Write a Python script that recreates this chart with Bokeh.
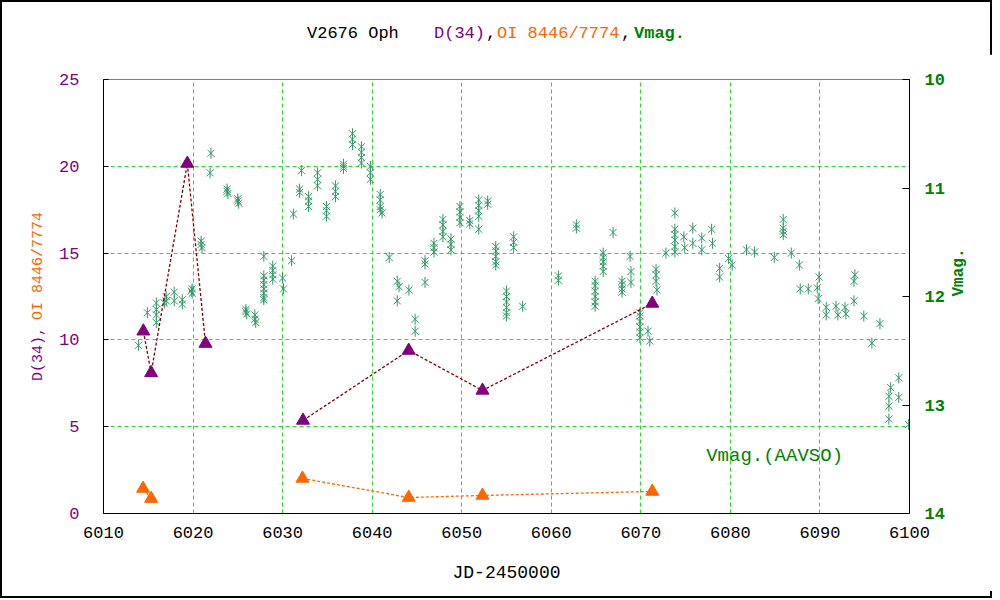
import math
from bokeh.plotting import figure
from bokeh.models import Range1d, LinearAxis, FixedTicker, Label, Div
from bokeh.layouts import column, row
from bokeh.embed import file_html
from bokeh.resources import INLINE

# ---------------- data ----------------
d34_jd = [6014.45, 6015.32, 6019.36, 6021.39, 6032.28, 6044.08, 6052.32, 6071.28]
d34_val = [10.5, 8.1, 20.16, 9.79, 5.36, 9.39, 7.09, 12.1]
d34_run = [0, 0, 0, 0, 1, 1, 1, 1]

oi_jd = [6014.42, 6015.32, 6032.22, 6044.08, 6052.32, 6071.28]
oi_val = [1.44, 0.86, 2.02, 0.92, 1.04, 1.27]
oi_run = [0, 0, 1, 1, 1, 1]

vmag_jd = [
    6013.9, 6014.9, 6015.9, 6015.9, 6015.9, 6015.9, 6016.8, 6017.0, 6017.0, 6017.9,
    6017.9, 6018.8, 6018.8, 6019.8, 6019.9, 6019.9, 6020.9, 6020.9, 6021.0, 6021.9,
    6022.0, 6023.8, 6023.8, 6023.9, 6025.0, 6025.0, 6025.1, 6025.9, 6025.9, 6026.0,
    6026.9, 6026.9, 6027.0, 6027.9, 6027.9, 6027.9, 6027.9, 6027.9, 6027.9, 6027.9,
    6027.9, 6028.9, 6028.9, 6028.9, 6028.9, 6030.0, 6030.1, 6031.0, 6031.2, 6032.1,
    6031.9, 6031.9, 6032.9, 6032.9, 6032.9, 6033.9, 6033.9, 6033.9, 6034.9, 6034.9,
    6034.9, 6035.9, 6035.9, 6035.9, 6036.8, 6036.8, 6036.8, 6037.8, 6037.8, 6037.8,
    6038.8, 6038.8, 6038.8, 6038.8, 6039.8, 6039.8, 6039.8, 6040.9, 6040.9, 6040.9,
    6040.9, 6041.1, 6041.9, 6042.8, 6042.8, 6043.0, 6044.1, 6044.8, 6044.8, 6045.9,
    6045.9, 6045.9, 6046.9, 6046.9, 6046.9, 6047.9, 6047.9, 6047.9, 6047.9, 6048.8,
    6048.8, 6048.8, 6049.8, 6049.8, 6049.8, 6049.8, 6050.9, 6050.9, 6051.9, 6051.9,
    6051.9, 6051.9, 6051.9, 6052.9, 6052.9, 6053.8, 6053.8, 6053.8, 6053.8, 6053.8,
    6055.0, 6055.0, 6055.0, 6055.0, 6055.0, 6055.0, 6055.8, 6055.8, 6055.8, 6056.8,
    6060.8, 6060.8, 6062.8, 6062.8, 6064.9, 6064.9, 6064.9, 6064.9, 6064.9, 6064.9,
    6065.8, 6065.8, 6065.8, 6065.8, 6065.8, 6066.9, 6067.9, 6067.9, 6067.9, 6067.9,
    6068.8, 6068.9, 6068.9, 6069.9, 6069.9, 6069.9, 6069.9, 6069.9, 6069.9, 6070.8,
    6071.0, 6071.7, 6071.7, 6071.7, 6071.8, 6072.8, 6073.8, 6073.8, 6073.8, 6073.8,
    6073.8, 6073.8, 6074.8, 6074.9, 6075.8, 6075.8, 6076.8, 6076.8, 6077.9, 6078.0,
    6078.8, 6078.8, 6079.8, 6080.2, 6081.8, 6082.7, 6084.9, 6085.9, 6085.9, 6085.9,
    6085.9, 6086.8, 6087.7, 6087.8, 6088.7, 6089.7, 6089.9, 6089.8, 6090.7, 6090.7,
    6091.8, 6092.0, 6092.8, 6092.9, 6093.8, 6093.9, 6093.8, 6094.9, 6095.8, 6096.7,
    6098.8, 6097.9, 6097.7, 6098.8, 6097.7, 6097.7, 6099.9,
]
vmag_val = [
    12.45, 12.15, 12.06, 12.12, 12.17, 12.24, 12.06, 12.00, 12.04, 11.96,
    12.04, 12.03, 12.07, 11.95, 11.93, 11.97, 11.49, 11.52, 11.55, 10.86,
    10.68, 11.01, 11.03, 11.05, 11.10, 11.12, 11.14, 12.12, 12.14, 12.16,
    12.17, 12.21, 12.24, 11.63, 11.81, 11.85, 11.89, 11.93, 11.97, 12.01,
    12.03, 11.72, 11.76, 11.80, 11.84, 11.83, 11.93, 11.67, 11.24, 10.84,
    11.01, 11.04, 11.08, 11.12, 11.17, 10.86, 10.92, 10.98, 11.17, 11.21,
    11.26, 10.98, 11.03, 11.08, 10.78, 10.80, 10.82, 10.50, 10.55, 10.60,
    10.62, 10.67, 10.72, 10.77, 10.80, 10.86, 10.92, 11.06, 11.11, 11.17,
    11.20, 11.23, 11.64, 11.86, 12.04, 11.91, 11.94, 12.21, 12.32, 11.67,
    11.70, 11.87, 11.51, 11.55, 11.59, 11.29, 11.34, 11.40, 11.45, 11.47,
    11.52, 11.57, 11.17, 11.22, 11.27, 11.32, 11.30, 11.33, 11.38, 11.11,
    11.16, 11.21, 11.26, 11.12, 11.15, 11.54, 11.58, 11.63, 11.68, 11.71,
    11.95, 12.00, 12.05, 12.10, 12.15, 12.18, 11.45, 11.50, 11.55, 12.09,
    11.81, 11.85, 11.34, 11.37, 11.86, 11.90, 11.95, 12.00, 12.05, 12.09,
    11.60, 11.64, 11.68, 11.72, 11.77, 11.41, 11.86, 11.89, 11.93, 11.96,
    11.63, 11.77, 11.87, 12.15, 12.18, 12.23, 12.28, 12.33, 12.38, 12.32,
    12.41, 11.75, 11.80, 11.86, 11.94, 11.60, 11.23, 11.38, 11.43, 11.48,
    11.54, 11.59, 11.45, 11.55, 11.37, 11.51, 11.46, 11.57, 11.38, 11.51,
    11.74, 11.82, 11.65, 11.71, 11.57, 11.59, 11.64, 11.29, 11.37, 11.40,
    11.43, 11.60, 11.71, 11.93, 11.93, 11.92, 11.82, 12.02, 12.10, 12.17,
    12.09, 12.17, 12.10, 12.16, 12.04, 11.80, 11.86, 12.18, 12.43, 12.25,
    12.75, 12.84, 12.92, 12.93, 13.01, 13.13, 13.18,
]

x_ticks = [6010, 6020, 6030, 6040, 6050, 6060, 6070, 6080, 6090, 6100]
left_ticks = [0, 5, 10, 15, 20, 25]
right_ticks = [10, 11, 12, 13, 14]

title_parts = [("V2676 Oph", "#000000", 302, "normal"),
               ("D(34)", "#800080", 429, "normal"),
               (",", "#000000", 481, "normal"),
               ("OI 8446/7774", "#ff6600", 492, "normal"),
               (",", "#000000", 616, "normal"),
               ("Vmag.", "#008000", 629, "bold")]
ylabel_parts = [("D(34),", "#800080"), ("OI 8446/7774", "#ff6600")]

PURPLE = "#800080"
ORANGE = "#ff6600"
GREEN_TXT = "#008000"
STAR = "#339966"
DRED = "#800000"
GRID = "#22e022"
MONO = "Liberation Mono"

TOTAL_W = 982
TITLE_H = 44
LEFT_W = 46
PW, PH = TOTAL_W - LEFT_W, 537


def broken(xs, ys, runs):
    ox, oy = [], []
    for i, (x, y, r) in enumerate(zip(xs, ys, runs)):
        if i > 0 and r != runs[i - 1]:
            ox.append(float("nan"))
            oy.append(float("nan"))
        ox.append(x)
        oy.append(y)
    return ox, oy


p = figure(width=PW, height=PH, output_backend="svg", toolbar_location=None,
           x_range=Range1d(6010, 6100), y_range=Range1d(0, 25),
           min_border_left=91 - LEFT_W, min_border_right=83,
           min_border_top=25, min_border_bottom=78, title=None)
p.extra_y_ranges = {"vmag": Range1d(14, 10)}
p.background_fill_color = "white"
p.border_fill_color = "white"
p.outline_line_color = "#808080"
p.outline_line_width = 1

# grids
p.xgrid.ticker = FixedTicker(ticks=x_ticks)
p.ygrid.ticker = FixedTicker(ticks=left_ticks)
for g in (p.xgrid, p.ygrid):
    g.grid_line_color = GRID
    g.grid_line_dash = "4 3"
    g.grid_line_width = 1

# bottom axis
xa = p.xaxis[0]
xa.ticker = FixedTicker(ticks=x_ticks)
xa.major_tick_in = 0
xa.major_tick_out = 0
xa.minor_tick_line_color = None
xa.major_label_text_font = MONO
xa.major_label_text_font_size = "17px"
xa.major_label_text_color = "black"
xa.major_label_standoff = 13
xa.axis_line_color = "black"
xa.axis_label = "JD-2450000"
xa.axis_label_text_font = MONO
xa.axis_label_text_font_size = "18px"
xa.axis_label_text_font_style = "normal"
xa.axis_label_text_color = "black"
xa.axis_label_standoff = 22

# left axis
ya = p.yaxis[0]
ya.ticker = FixedTicker(ticks=left_ticks)
ya.major_tick_in = 5
ya.major_tick_out = 0
ya.minor_tick_line_color = None
ya.major_label_text_font = MONO
ya.major_label_text_font_size = "17px"
ya.major_label_text_color = PURPLE
ya.major_label_standoff = 24
ya.axis_line_color = "black"

# right axis
ra = LinearAxis(y_range_name="vmag", ticker=FixedTicker(ticks=right_ticks))
ra.major_tick_in = 7
ra.major_tick_out = 0
ra.minor_tick_line_color = None
ra.major_label_text_font = MONO
ra.major_label_text_font_size = "17px"
ra.major_label_text_font_style = "bold"
ra.major_label_text_color = GREEN_TXT
ra.major_label_standoff = 15
ra.axis_line_color = "black"
ra.axis_label = "Vmag."
ra.axis_label_text_font = MONO
ra.axis_label_text_font_size = "16px"
ra.axis_label_text_font_style = "bold"
ra.axis_label_text_color = GREEN_TXT
ra.axis_label_standoff = 11
if "axis_label_orientation" in ra.properties():
    ra.axis_label_orientation = math.pi / 2
p.add_layout(ra, "right")

# data
p.scatter(vmag_jd, vmag_val, marker="x", size=10, line_color=STAR,
          line_width=1, y_range_name="vmag")
p.scatter(vmag_jd, vmag_val, marker="dash", size=11, angle=math.pi / 2,
          line_color=STAR, line_width=1, y_range_name="vmag")

lx, ly = broken(d34_jd, d34_val, d34_run)
p.line(lx, ly, line_color=DRED, line_dash="3 2", line_width=1.3)
ox, oy = broken(oi_jd, oi_val, oi_run)
p.line(ox, oy, line_color=ORANGE, line_dash="3 2", line_width=1.3)

p.scatter(d34_jd, d34_val, marker="triangle", size=13, fill_color=PURPLE,
          line_color=PURPLE)
p.scatter(oi_jd, oi_val, marker="triangle", size=13, fill_color=ORANGE,
          line_color=ORANGE)

p.add_layout(Label(x=6077.3, y=3.34, text="Vmag.(AAVSO)", text_color=GREEN_TXT,
                   text_font=MONO, text_font_size="19px", text_align="left",
                   text_baseline="middle"))

# title (multi-coloured) as HTML
spans = "".join(
    f'<span style="position:absolute;left:{x}px;top:20px;color:{c};'
    f'font-weight:{w};white-space:pre;">{t}</span>'
    for t, c, x, w in title_parts)
title_div = Div(
    text=(f'<div style="position:relative;width:{TOTAL_W}px;height:{TITLE_H}px;'
          f"font-family:'Liberation Mono',monospace;font-size:17px;"
          f'line-height:17px;">{spans}</div>'),
    width=TOTAL_W, height=TITLE_H)

# left axis label (multi-coloured, rotated) as HTML
LEFT_INNER_H = PH - 4
yspans = '<span style="display:inline-block;height:7px;"></span>'.join(
    f'<span style="color:{c};white-space:pre;">{t}</span>' for t, c in ylabel_parts)
left_div = Div(
    text=(f'<div style="width:{LEFT_W}px;height:{LEFT_INNER_H}px;display:flex;'
          f'align-items:center;justify-content:center;box-sizing:border-box;'
          f'padding-left:20px;padding-bottom:58px;'
          f"font-family:'Liberation Mono',monospace;font-size:15px;\">"
          f'<div style="writing-mode:vertical-rl;transform:rotate(180deg);'
          f'white-space:nowrap;line-height:15px;">{yspans}</div></div>'),
    width=LEFT_W, height=PH - 3)

layout = column(title_div, row(left_div, p, spacing=0), spacing=0,
                styles={"outline": "2px solid black", "outline-offset": "-2px",
                        "background-color": "white"})

open("out.html", "w").write(file_html(layout, INLINE))
